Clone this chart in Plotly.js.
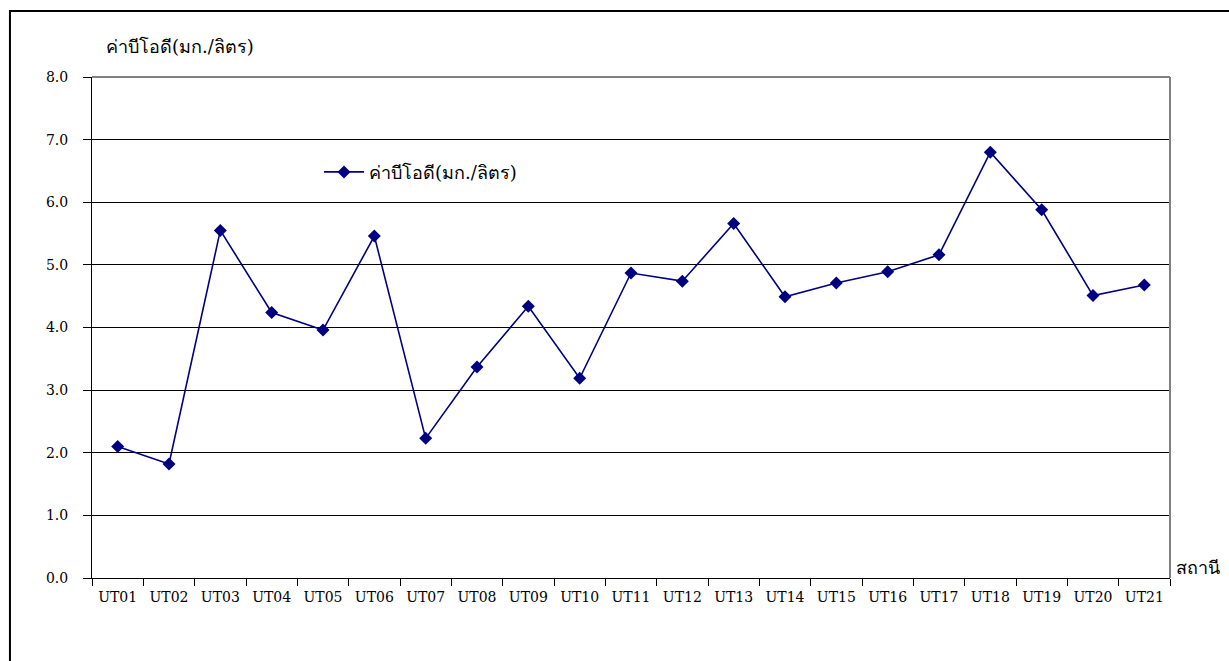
<!DOCTYPE html>
<html>
<head>
<meta charset="utf-8">
<script src="https://cdn.plot.ly/plotly-3.0.1.min.js"></script>
<style>html,body{margin:0;padding:0;background:#fff;}#chart{width:1229px;height:661px;}</style>
</head>
<body>
<div id="chart"></div>
<script>
const stations = ["UT01","UT02","UT03","UT04","UT05","UT06","UT07","UT08","UT09","UT10","UT11","UT12","UT13","UT14","UT15","UT16","UT17","UT18","UT19","UT20","UT21"];
const bodValues = [2.10,1.82,5.55,4.24,3.96,5.46,2.23,3.37,4.34,3.19,4.87,4.74,5.66,4.49,4.71,4.89,5.16,6.80,5.88,4.51,4.68];
const yTicks = [0,1,2,3,4,5,6,7,8];
const yTickText = ["0.0","1.0","2.0","3.0","4.0","5.0","6.0","7.0","8.0"];
const seriesName = "ค่าบีโอดี(มก./ลิตร)";
const yTitle = "ค่าบีโอดี(มก./ลิตร)";
const xTitle = "สถานี";

const serif = "DejaVu Serif, serif";

const trace = {
  x: stations, y: bodValues, type: "scatter", mode: "lines+markers",
  name: seriesName,
  line: {color: "#000080", width: 1.6},
  marker: {symbol: "diamond", size: 10, color: "#000080"}
};

const layout = {
  width: 1229, height: 661,
  margin: {l: 92, r: 59, t: 77, b: 83},
  paper_bgcolor: "#fff", plot_bgcolor: "#fff",
  font: {family: serif, size: 14, color: "#000"},
  showlegend: true,
  legend: {x: 0.2106, y: 0.81, xanchor: "left", yanchor: "middle", bgcolor: "rgba(0,0,0,0)", font: {family: serif, size: 18}, itemwidth: 40},
  xaxis: {
    type: "category", tickson: "boundaries", ticks: "outside", ticklen: 7, tickcolor: "#000",
    showline: true, linecolor: "#000", linewidth: 1, showgrid: false, zeroline: false,
    tickfont: {family: serif, size: 14}, ticklabelstandoff: 6, fixedrange: true,
    range: [-0.5, 20.5]
  },
  yaxis: {
    range: [0, 8], tickvals: yTicks, ticktext: yTickText, ticks: "outside", ticklen: 8, tickcolor: "#000",
    showline: true, linecolor: "#000", linewidth: 1, showgrid: true, gridcolor: "#000", gridwidth: 1,
    zeroline: false, tickfont: {family: serif, size: 14}, ticklabelstandoff: 12, fixedrange: true
  },
  shapes: [
    {type: "line", xref: "paper", yref: "paper", x0: 1, x1: 1, y0: 0, y1: 1, line: {color: "#808080", width: 2}},
    {type: "line", xref: "paper", yref: "paper", x0: 0, x1: 1, y0: 1, y1: 1, line: {color: "#808080", width: 2}},
    {type: "rect", xref: "paper", yref: "paper", x0: -0.0761, x1: 1.2, y0: 1.1317, y1: -0.3, line: {color: "#000", width: 2}}
  ],
  annotations: [
    {text: yTitle, xref: "paper", yref: "paper", x: 0.011, y: 1.06, xanchor: "left", yanchor: "middle", showarrow: false, font: {family: serif, size: 18}},
    {text: xTitle, xref: "paper", yref: "paper", x: 1.004, y: 0.02, xanchor: "left", yanchor: "middle", showarrow: false, font: {family: serif, size: 18}}
  ]
};

Plotly.newPlot("chart", [trace], layout, {displayModeBar: false, staticPlot: true});
</script>
</body>
</html>
